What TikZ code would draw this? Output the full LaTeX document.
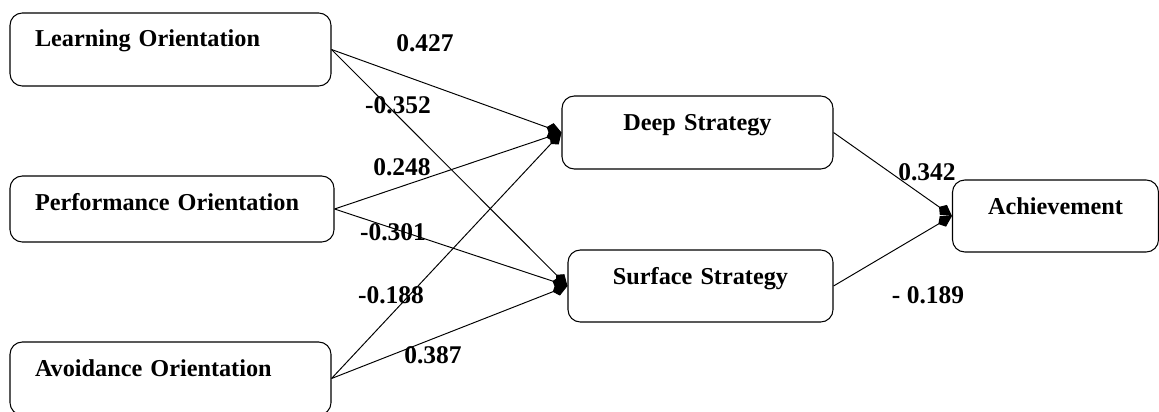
\documentclass[tikz,border=0pt]{standalone}
\usepackage{fontspec}
\setmainfont{Liberation Serif}
\usetikzlibrary{arrows.meta,positioning}

\tikzset{
  varbox/.style={draw, rounded corners=7pt, line width=0.6pt, font=\fontsize{13.8}{16}\selectfont\bfseries, inner ysep=0.2cm, text height=0.48cm},
  leftbox/.style={varbox, inner xsep=0.5cm, text width=5.42cm, align=left, minimum height=1.46cm},
  rightbox/.style={varbox, inner xsep=0.1cm, align=center},
  path/.style={-{Kite[length=9pt,width=7pt,inset=3pt]}, line width=0.55pt},
  coef/.style={font=\fontsize{14.5}{16}\selectfont\bfseries, inner sep=0pt}
}

\begin{document}
\begin{tikzpicture}
  \useasboundingbox (0,0) rectangle (23.18,8.22);

  % Predictors
  \node[leftbox, text depth=0.58cm] (learn) at (3.41,7.23) {Learning Orientation};
  \node[leftbox, text depth=0.44cm, minimum height=1.32cm, text width=5.48cm] (perf) at (3.44,4.04) {Performance Orientation};
  \node[leftbox, text depth=0.58cm] (avoid) at (3.41,0.65) {Avoidance Orientation};

  % Strategies
  \node[rightbox, text depth=0.58cm, text width=5.22cm, minimum height=1.46cm] (deep) at (13.95,5.57) {Deep Strategy};
  \node[rightbox, text depth=0.56cm, text width=5.10cm, minimum height=1.44cm] (surf) at (14.01,2.50) {Surface Strategy};

  % Outcome
  \node[rightbox, text depth=0.56cm, text width=3.92cm, minimum height=1.44cm] (achieve) at (21.11,3.90) {Achievement};

  % Paths
  \draw[path] (learn.east) -- (deep.west);
  \draw[path] (learn.east) -- (surf.west);
  \draw[path] (perf.east) -- (deep.west);
  \draw[path] (perf.east) -- (surf.west);
  \draw[path] (avoid.east) -- (deep.west);
  \draw[path] (avoid.east) -- (surf.west);
  \draw[path] (deep.east) -- (achieve.west);
  \draw[path] (surf.east) -- (achieve.west);

  % Coefficients
  \node[coef] (c1) at (8.50,7.36) {0.427};
  \node[coef] (c2) at (7.96,6.12) {-0.352};
  \node[coef] (c3) at (8.04,4.88) {0.248};
  \node[coef] (c4) at (7.86,3.58) {-0.301};
  \node[coef] (c5) at (7.82,2.32) {-0.188};
  \node[coef] (c6) at (8.66,1.12) {0.387};
  \node[coef] (c7) at (18.54,4.78) {0.342};
  \node[coef] (c8) at (18.56,2.32) {- 0.189};
\end{tikzpicture}
\end{document}
